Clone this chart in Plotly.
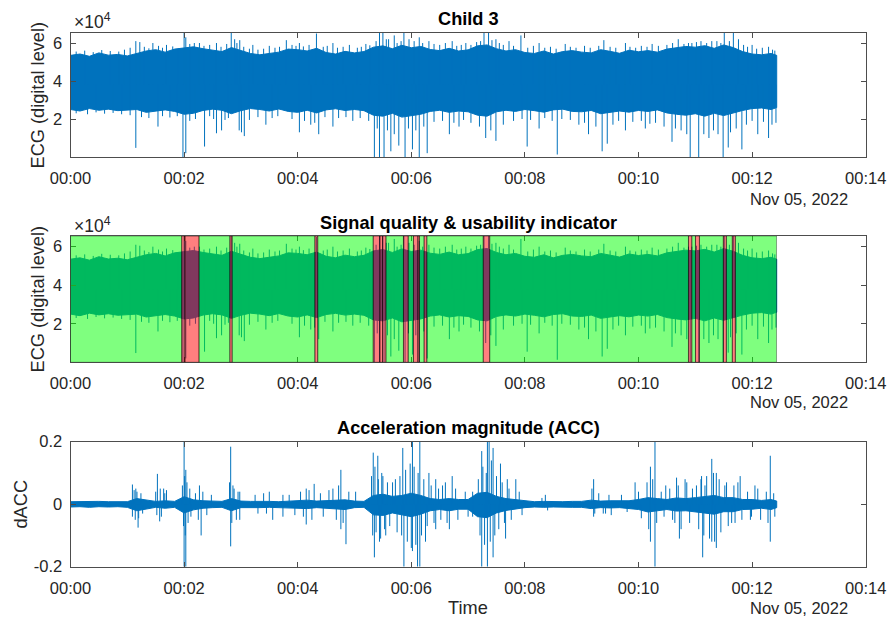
import plotly.graph_objects as go
import pandas as pd

W, H = 889, 619
T0 = pd.Timestamp("2022-11-05 00:00:00")

# ---------------- data ----------------
# sampling grid of the envelope (seconds from start)
sample_sec = list(range(0, 741, 10)) + [746]

# ECG core band (thousands of digital levels), upper / lower envelope every 10 s
ecg_hi = [53.5, 54.2, 53.0, 54.8, 53.6, 54.0,
          53.2, 54.5, 55.8, 56.5, 55.2, 56.8,
          57.5, 58.0, 57.0, 56.2, 55.5, 57.6,
          56.0, 54.5, 53.8, 54.6, 55.2, 56.8,
          56.5, 55.8, 57.2, 55.0, 54.2, 55.6,
          54.8, 55.5, 57.8, 58.5, 57.0, 58.8,
          57.5, 58.2, 56.6, 56.0, 57.2, 55.8,
          56.4, 58.5, 59.0, 57.0, 55.8, 56.5,
          55.0, 54.5, 55.8, 54.2, 55.5, 56.0,
          55.2, 54.8, 56.5, 55.6, 54.6, 56.2,
          55.4, 56.0, 55.2, 56.8, 57.5, 58.2,
          57.8, 58.6, 57.2, 59.0, 57.6, 55.5,
          54.2, 53.8, 54.5, 53.5]
ecg_lo = [25.0, 24.2, 25.5, 24.6, 25.2, 24.4,
          24.8, 25.0, 23.5, 24.2, 24.8, 24.0,
          22.5, 23.0, 24.5, 25.2, 24.6, 22.8,
          24.4, 25.5, 25.0, 24.2, 25.3, 24.0,
          23.5, 24.6, 23.2, 24.8, 25.4, 24.5,
          25.0, 24.4, 22.0, 21.5, 23.0, 21.0,
          21.8, 22.5, 24.0, 24.6, 23.5, 24.2,
          23.8, 22.0, 21.5, 23.8, 24.6, 24.0,
          25.0, 24.4, 23.6, 24.8, 25.2, 24.0,
          23.8, 24.5, 22.8, 23.5, 24.2, 23.6,
          24.5, 24.0, 24.8, 23.2, 22.5, 22.0,
          22.8, 21.5, 23.0, 21.8, 23.0, 24.5,
          25.5, 25.8, 25.0, 26.0]

# ECG outlier spikes: time (minutes) and value (thousands)
ecg_spike_t = [1.15, 1.22, 1.45, 1.69, 2.00, 2.03, 2.27, 2.57, 2.83, 2.89, 2.98, 3.21, 3.50,
               3.80, 4.03, 4.33, 4.62, 4.91, 5.20, 5.44, 5.50, 5.56, 5.70, 5.87, 5.96, 6.14,
               6.31, 6.72, 6.96, 7.28, 7.36, 7.49, 7.72, 7.93, 8.25, 8.71, 9.39, 9.77, 10.24,
               10.70, 10.94, 11.29, 11.51, 11.67, 11.76, 12.00, 12.29,
               1.15, 1.54, 1.98, 2.03, 2.36, 2.57, 2.66, 2.97, 3.01, 3.06, 3.44, 4.03, 4.23,
               4.37, 4.62, 4.97, 5.35, 5.44, 5.52, 5.64, 5.78, 5.89, 6.02, 6.14, 6.28, 6.67,
               6.84, 7.31, 7.49, 8.04, 8.25, 8.57, 9.12, 9.36, 9.45, 9.77, 10.12, 10.59,
               10.91, 11.06, 11.24, 11.49, 11.58, 11.82, 12.10, 12.29]
ecg_spike_v = [61.0, 60.5, 60.0, 59.0, 65.5, 63.0, 60.0, 60.0, 65.5, 62.0, 61.5, 59.0, 58.5,
               61.5, 60.0, 65.0, 60.0, 59.0, 59.5, 65.5, 65.5, 62.0, 64.0, 65.5, 62.0, 63.0,
               61.0, 61.0, 60.0, 65.5, 65.5, 62.0, 61.0, 64.0, 60.0, 59.5, 61.5, 60.0, 59.5,
               62.0, 60.0, 61.0, 65.5, 65.5, 62.0, 59.0, 58.0,
               4.8, 16.0, 0.0, 2.0, 5.5, 12.5, 14.0, 14.0, 13.0, 11.0, 17.0, 13.0, 17.0,
               12.0, 16.0, 19.0, 0.0, 0.0, 0.0, 3.0, 6.0, 0.0, 4.0, 0.0, 2.0, 12.0,
               16.0, 10.0, 8.5, 5.5, 15.0, 1.3, 12.0, 3.0, 7.0, 14.0, 15.0, 8.0,
               0.0, 0.0, 10.0, 0.0, 5.0, 4.0, 12.0, 10.0]

# ECG ragged fringe just outside the core band: time (minutes) and value (thousands)
ecg_fringe_t = [0.10, 0.25, 0.40, 0.55, 0.70, 0.85, 0.95, 1.05, 1.30, 1.38, 1.55, 1.62, 1.80,
                1.90, 2.10, 2.18, 2.35, 2.45, 2.65, 2.75, 2.93, 3.05, 3.15, 3.30, 3.40, 3.60,
                3.68, 3.90, 3.97, 4.10, 4.20, 4.45, 4.52, 4.70, 4.80, 5.05, 5.12, 5.27, 5.38,
                5.60, 5.75, 5.82, 6.05, 6.20, 6.40, 6.50, 6.60, 6.80, 6.88, 7.05, 7.15, 7.22,
                7.42, 7.55, 7.62, 7.80, 8.05, 8.15, 8.35, 8.45, 8.55, 8.80, 8.90, 9.05, 9.15,
                9.30, 9.50, 9.60, 9.85, 9.95, 10.05, 10.15, 10.35, 10.50, 10.60, 10.80, 10.88,
                11.02, 11.10, 11.20, 11.38, 11.45, 11.60, 11.85, 11.92, 12.08, 12.18, 12.36,
                12.40,
                0.10, 0.30, 0.45, 0.60, 0.75, 0.90, 1.05, 1.25, 1.38, 1.62, 1.75, 1.88, 2.10,
                2.20, 2.45, 2.52, 2.72, 2.78, 3.15, 3.30, 3.55, 3.65, 3.90, 4.12, 4.30, 4.48,
                4.72, 4.85, 5.10, 5.25, 5.40, 5.58, 5.70, 5.95, 6.08, 6.22, 6.40, 6.55, 6.75,
                6.92, 7.05, 7.20, 7.40, 7.62, 7.80, 7.95, 8.10, 8.35, 8.48, 8.65, 8.80, 8.95,
                9.05, 9.25, 9.55, 9.65, 9.90, 10.05, 10.20, 10.30, 10.45, 10.65, 10.75, 10.85,
                11.15, 11.32, 11.40, 11.62, 11.72, 11.90, 12.00, 12.20, 12.35, 12.42]
ecg_fringe_v = [55.5, 56.0, 55.2, 56.3, 55.8, 55.5, 56.5, 57.5, 58.0, 57.2, 58.5, 57.5, 58.2,
                57.0, 59.5, 60.0, 58.5, 59.0, 58.0, 59.5, 60.0, 58.0, 57.0, 56.5, 57.0, 57.5,
                58.0, 59.0, 58.5, 58.2, 59.0, 58.0, 58.5, 57.5, 58.0, 57.5, 58.0, 58.8, 61.0,
                62.0, 60.0, 61.0, 61.0, 60.0, 59.5, 59.0, 60.0, 58.5, 59.0, 59.0, 60.5, 61.0,
                61.5, 60.0, 59.0, 58.5, 57.5, 58.5, 57.5, 58.0, 57.0, 58.0, 57.5, 58.5, 57.5,
                58.5, 58.0, 57.5, 58.0, 57.5, 58.5, 58.0, 58.5, 59.0, 60.0, 59.5, 60.0,
                60.5, 61.0, 60.0, 61.0, 60.0, 61.0, 59.0, 58.0, 57.0, 57.5, 56.5,
                56.0,
                23.0, 22.5, 23.5, 22.8, 23.2, 22.5, 22.0, 21.0, 20.5, 21.5, 20.8, 21.5, 19.0,
                20.0, 21.5, 20.0, 19.5, 20.5, 19.5, 21.0, 20.5, 21.5, 20.0, 19.0, 18.0, 21.0,
                20.5, 21.0, 20.5, 19.0, 15.0, 14.0, 12.0, 15.0, 14.0, 16.0, 18.5, 19.0, 18.0,
                19.5, 18.0, 16.0, 14.0, 17.0, 19.0, 20.0, 19.5, 20.5, 19.0, 20.0, 19.5, 17.0,
                18.0, 16.0, 17.0, 19.0, 18.5, 19.0, 17.5, 18.0, 16.0, 15.0, 14.0, 12.0,
                12.0, 14.0, 12.0, 13.0, 15.0, 17.0, 19.0, 18.5, 17.0, 18.0]

# Acceleration core band (dACC), upper / lower envelope every 10 s
acc_hi = [0.008, 0.009, 0.008, 0.009, 0.008, 0.009,
          0.008, 0.018, 0.014, 0.009, 0.011, 0.009,
          0.024, 0.014, 0.011, 0.010, 0.009, 0.018,
          0.010, 0.009, 0.010, 0.009, 0.008, 0.010,
          0.011, 0.013, 0.010, 0.011, 0.013, 0.014,
          0.010, 0.009, 0.028, 0.032, 0.025, 0.028,
          0.035, 0.028, 0.018, 0.015, 0.018, 0.015,
          0.015, 0.035, 0.038, 0.025, 0.018, 0.015,
          0.010, 0.008, 0.009, 0.008, 0.008, 0.009,
          0.009, 0.013, 0.010, 0.011, 0.010, 0.011,
          0.015, 0.021, 0.018, 0.015, 0.020, 0.018,
          0.021, 0.025, 0.028, 0.021, 0.021, 0.015,
          0.015, 0.012, 0.015, 0.010]
acc_lo = [-0.009, -0.008, -0.010, -0.008, -0.009, -0.008,
          -0.010, -0.021, -0.016, -0.010, -0.013, -0.010,
          -0.028, -0.018, -0.013, -0.011, -0.010, -0.021,
          -0.011, -0.010, -0.011, -0.010, -0.009, -0.011,
          -0.013, -0.014, -0.011, -0.013, -0.015, -0.017,
          -0.011, -0.010, -0.034, -0.036, -0.028, -0.034,
          -0.040, -0.032, -0.021, -0.017, -0.021, -0.016,
          -0.016, -0.040, -0.043, -0.028, -0.020, -0.016,
          -0.011, -0.009, -0.010, -0.009, -0.009, -0.010,
          -0.010, -0.014, -0.011, -0.012, -0.011, -0.013,
          -0.017, -0.025, -0.021, -0.017, -0.022, -0.021,
          -0.025, -0.028, -0.032, -0.024, -0.024, -0.017,
          -0.016, -0.013, -0.017, -0.011]

# Acceleration large spikes: time (minutes) and value
acc_spike_t = [1.09, 1.15, 1.53, 1.64, 1.69, 2.00, 2.03, 2.27, 2.82, 2.86, 2.98, 3.50, 3.74,
               4.15, 4.29, 4.62, 4.76, 5.02, 5.33, 5.41, 5.50, 5.67, 5.85, 6.02, 6.15, 6.31,
               6.43, 6.55, 6.72, 7.08, 7.24, 7.34, 7.37, 7.44, 7.57, 7.69, 7.84, 8.36, 9.21,
               9.94, 10.21, 10.29, 10.48, 10.67, 10.82, 11.11, 11.17, 11.29, 11.37, 11.52,
               11.79, 12.05, 12.32,
               0.00, 1.09, 1.19, 1.57, 2.00, 2.03, 2.30, 2.82, 2.98, 3.56, 3.74, 4.15, 4.76,
               4.85, 5.35, 5.44, 5.55, 5.87, 6.02, 6.11, 6.15, 6.25, 6.43, 6.67, 7.08, 7.24,
               7.34, 7.44, 7.66, 9.21, 9.42, 10.21, 10.29, 10.64, 10.72, 11.13, 11.29, 11.37,
               11.64, 11.99, 12.32]
acc_spike_v = [0.063, 0.050, 0.097, 0.050, 0.045, 0.200, 0.110, 0.060, 0.184, 0.060, 0.040,
               0.040, 0.030, 0.050, 0.065, 0.050, 0.110, 0.040, 0.165, 0.155, 0.090, 0.070,
               0.180, 0.200, 0.200, 0.100, 0.080, 0.060, 0.090, 0.040, 0.170, 0.200, 0.200,
               0.180, 0.130, 0.080, 0.080, 0.030, 0.080, 0.070, 0.120, 0.200, 0.060, 0.085,
               0.080, 0.090, 0.060, 0.145, 0.100, 0.060, 0.090, 0.060, 0.155,
               -0.200, -0.040, -0.075, -0.055, -0.200, -0.200, -0.100, -0.135, -0.050,
               -0.050, -0.040, -0.065, -0.080, -0.128, -0.170, -0.120, -0.100, -0.200,
               -0.150, -0.200, -0.200, -0.120, -0.080, -0.080, -0.040, -0.200, -0.200,
               -0.170, -0.110, -0.040, -0.030, -0.120, -0.200, -0.060, -0.110, -0.170,
               -0.120, -0.140, -0.060, -0.040, -0.120]

# Acceleration burst strokes (medium spikes inside active periods)
acc_burst_t = [1.12, 1.14, 1.17, 1.20, 1.24, 1.27, 1.50, 1.52, 1.58, 1.60, 1.66,
               1.97, 1.99, 2.01, 2.02, 2.05, 2.07, 2.10, 2.12, 2.20, 2.25, 2.33, 2.40, 2.48,
               2.80, 2.84, 2.88, 2.92, 2.95, 3.25, 3.30, 3.40, 3.45,
               3.85, 3.95, 4.05, 4.10, 4.20, 4.25, 4.40, 4.45, 4.55, 4.68, 4.72, 4.80, 4.90,
               5.30, 5.32, 5.36, 5.38, 5.42, 5.46, 5.48, 5.53, 5.58, 5.62, 5.72, 5.75, 5.80,
               5.83, 5.90, 5.93, 5.98, 6.00, 6.05, 6.08, 6.12, 6.18, 6.22, 6.28,
               6.35, 6.40, 6.48, 6.52, 6.60, 6.63, 6.78, 6.82, 6.95, 7.00,
               7.18, 7.21, 7.26, 7.29, 7.32, 7.39, 7.41, 7.47, 7.50, 7.54, 7.60, 7.64, 7.72,
               7.76, 7.90, 7.95, 8.30, 8.40,
               9.18, 9.23, 9.30, 9.38, 9.48, 9.52, 9.70, 9.80,
               10.00, 10.05, 10.15, 10.18, 10.25, 10.32, 10.40, 10.45,
               10.55, 10.60, 10.70, 10.75, 10.85, 10.90, 10.95,
               11.02, 11.06, 11.10, 11.15, 11.20, 11.25, 11.32, 11.34, 11.42, 11.45, 11.55,
               11.58, 11.68, 11.70, 11.75, 11.82,
               11.92, 11.97, 12.10, 12.15, 12.25, 12.28, 12.38, 12.40]
acc_burst_v = [0.045, -0.050, 0.040, -0.045, 0.035, -0.030, 0.040, -0.035, 0.050, -0.040, 0.035,
               0.060, -0.070, 0.090, -0.100, 0.070, -0.060, 0.050, -0.040, 0.035, -0.050,
               0.040, -0.035, 0.030,
               0.070, -0.060, 0.050, -0.050, 0.040, 0.030, -0.030, 0.035, -0.030,
               0.030, -0.035, 0.040, -0.040, 0.045, -0.050, 0.035, -0.040, 0.045, -0.050,
               0.060, -0.060, 0.040,
               0.090, -0.100, 0.120, -0.090, 0.080, -0.110, 0.100, -0.080, 0.070, -0.070,
               0.080, -0.090, 0.090, -0.100, 0.110, -0.120, 0.130, -0.140, 0.120, -0.130,
               0.100, -0.100, 0.080, -0.070,
               0.060, -0.060, 0.050, -0.050, 0.070, -0.060, 0.050, -0.050, 0.040, -0.040,
               0.080, -0.100, 0.120, -0.130, 0.100, -0.120, 0.140, -0.100, 0.090, -0.080,
               0.070, -0.060, 0.050, -0.050, 0.040, -0.035, 0.020, -0.020,
               0.050, -0.030, 0.035, -0.030, 0.030, -0.035, 0.030, -0.025,
               0.040, -0.045, 0.070, -0.080, 0.080, -0.060, 0.040, -0.040,
               0.050, -0.050, 0.060, -0.080, 0.070, -0.060, 0.050,
               0.060, -0.080, 0.080, -0.100, 0.090, -0.110, 0.100, -0.120, 0.080, -0.090,
               0.070, -0.070, 0.060, -0.060, 0.070, -0.050,
               0.040, -0.050, 0.050, -0.050, 0.040, -0.060, 0.035, -0.040]

# Unusable segments (minutes) shown in red; the rest of the record is green
red_start = [1.958, 2.015, 2.806, 4.303, 5.330, 5.447, 5.493, 5.862, 6.038, 6.116, 6.226,
             7.267, 10.880, 11.003, 11.494, 11.652]
red_end = [2.015, 2.262, 2.845, 4.352, 5.447, 5.493, 5.553, 5.945, 6.116, 6.143, 6.273,
           7.380, 10.938, 11.073, 11.547, 11.705]
record_end_min = 12.43

x_tick_labels = ["00:00", "00:02", "00:04", "00:06", "00:08", "00:10", "00:12", "00:14"]
ecg_tick_labels = ["2", "4", "6"]
acc_tick_labels = ["-0.2", "0", "0.2"]

# ---------------- helpers ----------------
BLUE = "#0072BD"
AX = "#4d4d4d"
TXT = "#262626"
FONT = "Liberation Sans, Arial, Helvetica, sans-serif"


def tmin(m):
    return T0 + pd.Timedelta(minutes=m)


band_t = [tmin(s / 60.0) for s in sample_sec]
band_x = band_t + band_t[::-1]


def spikes(ts, vs, base):
    xs, ys = [], []
    for t, v in zip(ts, vs):
        xs += [tmin(t), tmin(t), None]
        ys += [base, v, None]
    return xs, ys


fig = go.Figure()

ecg_hi_v = [v * 1000 for v in ecg_hi]
ecg_lo_v = [v * 1000 for v in ecg_lo]
ecg_sx, ecg_sy = spikes(ecg_spike_t + ecg_fringe_t,
                        [v * 1000 for v in ecg_spike_v + ecg_fringe_v], 38000)
acc_sx, acc_sy = spikes(acc_spike_t + acc_burst_t, acc_spike_v + acc_burst_v, 0.0)

for xa, ya in (("x", "y"), ("x2", "y2")):
    fig.add_trace(go.Scatter(x=band_x, y=ecg_hi_v + ecg_lo_v[::-1], fill="toself",
                             fillcolor=BLUE, line=dict(color=BLUE, width=1),
                             mode="lines", xaxis=xa, yaxis=ya, hoverinfo="skip"))
    fig.add_trace(go.Scatter(x=ecg_sx, y=ecg_sy, mode="lines",
                             line=dict(color=BLUE, width=1), xaxis=xa, yaxis=ya,
                             hoverinfo="skip"))

fig.add_trace(go.Scatter(x=band_x, y=acc_hi + acc_lo[::-1], fill="toself",
                         fillcolor=BLUE, line=dict(color=BLUE, width=1),
                         mode="lines", xaxis="x3", yaxis="y3", hoverinfo="skip"))
fig.add_trace(go.Scatter(x=acc_sx, y=acc_sy, mode="lines",
                         line=dict(color=BLUE, width=1), xaxis="x3", yaxis="y3",
                         hoverinfo="skip"))

# quality patches on panel 2
reds = sorted(zip(red_start, red_end))
greens = []
cur = 0.0
for a, b in reds:
    if a - cur > 1e-6:
        greens.append((cur, a))
    cur = max(cur, b)
if record_end_min - cur > 1e-6:
    greens.append((cur, record_end_min))

shapes = []
for a, b in greens:
    shapes.append(dict(type="rect", xref="x2", yref="y2", x0=tmin(a), x1=tmin(b),
                       y0=0, y1=65535, fillcolor="rgba(0,255,0,0.5)",
                       line=dict(color="rgba(0,0,0,0.35)", width=1), layer="above"))
for a, b in reds:
    shapes.append(dict(type="rect", xref="x2", yref="y2", x0=tmin(a), x1=tmin(b),
                       y0=0, y1=65535, fillcolor="rgba(255,0,0,0.5)",
                       line=dict(color="rgba(0,0,0,0.5)", width=1), layer="above"))

# ---------------- layout ----------------
XD = [70.5 / W, 865.7 / W]


def yd(top, bot):
    return [1 - bot / H, 1 - top / H]


tick_vals_x = [tmin(2 * i) for i in range(len(x_tick_labels))]


def xax(anchor):
    return dict(domain=XD, anchor=anchor, type="date",
                range=[tmin(0), tmin(14)], tickvals=tick_vals_x, ticktext=x_tick_labels,
                ticks="inside", ticklen=5, tickcolor=AX, mirror="ticks", showline=True,
                linecolor=AX, linewidth=1, showgrid=False, zeroline=False,
                tickfont=dict(family=FONT, size=16.5, color=TXT), ticklabelstandoff=6)


def yax(anchor, dom, rng, vals, text):
    return dict(domain=dom, anchor=anchor, range=rng, tickvals=vals, ticktext=text,
                ticks="inside", ticklen=5, tickcolor=AX, mirror="ticks", showline=True,
                linecolor=AX, linewidth=1, showgrid=False, zeroline=False,
                tickfont=dict(family=FONT, size=16.5, color=TXT), ticklabelstandoff=4)


ann = []


def add_text(text, x, y, size=16.5, bold=False, xanchor="center", angle=0):
    ann.append(dict(text=("<b>%s</b>" % text) if bold else text, x=x / W, y=1 - y / H,
                    xref="paper", yref="paper", xanchor=xanchor, yanchor="middle",
                    showarrow=False, textangle=angle,
                    font=dict(family=FONT, size=size, color="#000" if bold else TXT)))


add_text("Child 3", 468, 19, 18.2, True)
add_text("Signal quality &amp; usability indicator", 468, 223, 18.2, True)
add_text("Acceleration magnitude (ACC)", 468, 428, 18.2, True)
add_text("×10<sup>4</sup>", 72, 21, 17.5, xanchor="left")
add_text("×10<sup>4</sup>", 72, 225, 17.5, xanchor="left")
for yy in (199, 402, 608):
    add_text("Nov 05, 2022", 850, yy, 16.5, xanchor="right")
add_text("Time", 468, 608, 18.2)
add_text("ECG (digital level)", 37.5, 95, 18.2, angle=-90)
add_text("ECG (digital level)", 37.5, 299, 18.2, angle=-90)
add_text("dACC", 20.5, 504, 18.2, angle=-90)

fig.update_layout(
    width=W, height=H, template="none", showlegend=False,
    margin=dict(l=0, r=0, t=0, b=0), paper_bgcolor="white", plot_bgcolor="white",
    xaxis=xax("y"), xaxis2=xax("y2"), xaxis3=xax("y3"),
    yaxis=yax("x", yd(32.5, 157), [0, 65535], [20000, 40000, 60000], ecg_tick_labels),
    yaxis2=yax("x2", yd(236, 362.3), [0, 65535], [20000, 40000, 60000], ecg_tick_labels),
    yaxis3=yax("x3", yd(441.7, 566.7), [-0.2, 0.2], [-0.2, 0, 0.2], acc_tick_labels),
    shapes=shapes, annotations=ann,
)

fig.write_html("out.html", config={"displayModeBar": False},
               post_script="document.body.style.margin='0px';document.body.style.overflow='hidden';")
